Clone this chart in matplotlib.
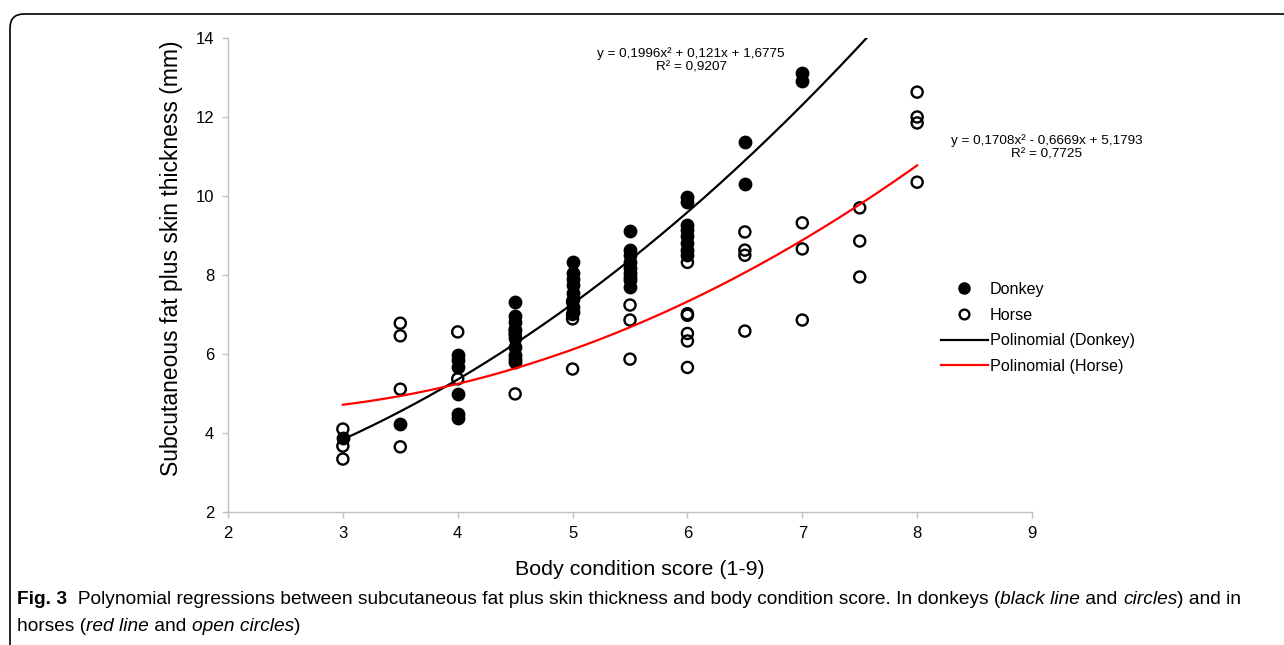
import numpy as np
import matplotlib
matplotlib.use('Agg')
import matplotlib.pyplot as plt
from matplotlib.patches import FancyBboxPatch
from matplotlib.lines import Line2D
from matplotlib.transforms import IdentityTransform

plt.rcParams['font.family'] = ['Liberation Sans', 'DejaVu Sans']

# body condition score and fat+skin thickness (mm)
donkey_x = [3,
            3.5,
            4, 4, 4, 4, 4, 4,
            4.5, 4.5, 4.5, 4.5, 4.5, 4.5, 4.5, 4.5, 4.5,
            5, 5, 5, 5, 5, 5, 5, 5,
            5.5, 5.5, 5.5, 5.5, 5.5, 5.5, 5.5, 5.5, 5.5,
            6, 6, 6, 6, 6, 6, 6, 6,
            6.5, 6.5,
            7, 7]
donkey_y = [3.88,
            4.23,
            5.98, 5.85, 5.68, 4.99, 4.47, 4.37,
            7.32, 6.95, 6.82, 6.62, 6.40, 6.18, 5.98, 5.88, 5.80,
            8.33, 8.05, 7.90, 7.75, 7.54, 7.39, 7.20, 7.06,
            9.11, 8.63, 8.50, 8.33, 8.18, 8.05, 7.95, 7.87, 7.70,
            9.97, 9.85, 9.27, 9.14, 9.00, 8.80, 8.63, 8.50,
            11.37, 10.30,
            13.11, 12.91]

horse_x = [3, 3, 3,
           3.5, 3.5, 3.5, 3.5,
           4, 4,
           4.5, 4.5, 4.5,
           5, 5, 5, 5,
           5.5, 5.5, 5.5,
           6, 6, 6, 6, 6, 6,
           6.5, 6.5, 6.5, 6.5,
           7, 7, 7,
           7.5, 7.5, 7.5,
           8, 8, 8, 8]
horse_y = [4.10, 3.67, 3.34,
           6.78, 6.46, 5.11, 3.65,
           6.56, 5.37,
           6.62, 6.50, 4.99,
           7.32, 7.00, 6.89, 5.62,
           7.24, 6.86, 5.87,
           8.32, 7.02, 6.98, 6.52, 6.33, 5.66,
           9.09, 8.63, 8.50, 6.58,
           9.32, 8.66, 6.86,
           9.70, 8.86, 7.95,
           12.63, 12.00, 11.85, 10.35]

# trendline coefficients as printed on the chart
donkey_fit = [0.1996, 0.121, 1.6775]
horse_fit = [0.1708, -0.6669, 5.1793]
donkey_eq = 'y = 0,1996x² + 0,121x + 1,6775\nR² = 0,9207'
horse_eq = 'y = 0,1708x² - 0,6669x + 5,1793\nR² = 0,7725'

W, H = 1284, 645
fig = plt.figure(figsize=(W / 100, H / 100), dpi=100)
ax = fig.add_axes([228 / W, 1 - 512 / H, 804 / W, 474 / H])

grey = '#c0c0c0'
ax.scatter(donkey_x, donkey_y, s=80, c='black', edgecolors='black', linewidths=1, zorder=3)
ax.scatter(horse_x, horse_y, s=64, facecolors='none', edgecolors='black', linewidths=1.7, zorder=4)

xs = np.linspace(3, 8, 200)
ax.plot(xs, np.polyval(donkey_fit, xs), color='black', lw=1.6, zorder=5)
ax.plot(xs, np.polyval(horse_fit, xs), color='#ff0000', lw=1.6, zorder=5)

ax.set_xlim(2, 9)
ax.set_ylim(2, 14)
ax.set_xticks(range(2, 10))
ax.set_yticks(range(2, 15, 2))
for s in ('top', 'right'):
    ax.spines[s].set_visible(False)
for s in ('left', 'bottom'):
    ax.spines[s].set_color(grey)
    ax.spines[s].set_linewidth(1)
ax.tick_params(axis='both', direction='out', length=4, width=1, color=grey,
               labelsize=12, pad=6)
ax.set_xlabel('Body condition score (1-9)', fontsize=15.4, labelpad=14)
ax.set_ylabel('Subcutaneous fat plus skin thickness (mm)', fontsize=16.5, labelpad=9)
ax.xaxis.label.set_x(0.512)
ax.yaxis.label.set_y(0.536)

ax.text(691, H - 60, donkey_eq, transform=IdentityTransform(), fontsize=9.7, ha='center',
        va='center', linespacing=1.2)
ax.text(1047, H - 147, horse_eq, transform=IdentityTransform(), fontsize=9.7, ha='center',
        va='center', linespacing=1.2)

handles = [
    Line2D([], [], ls='none', marker='o', ms=8, mfc='black', mec='black'),
    Line2D([], [], ls='none', marker='o', ms=7, mfc='none', mec='black', mew=1.7),
    Line2D([], [], color='black', lw=1.6),
    Line2D([], [], color='#ff0000', lw=1.6),
]
labels = ['Donkey', 'Horse', 'Polinomial (Donkey)', 'Polinomial (Horse)']
ax.legend(handles, labels, loc='upper left', bbox_to_anchor=(933 / W, 1 - 274 / H),
          bbox_transform=fig.transFigure, frameon=False, fontsize=11.6,
          handlelength=2.9, handletextpad=0.12, labelspacing=0.66, borderpad=0)

# panel frame
frame = FancyBboxPatch((10, -40), 1320, H - 14 + 40, boxstyle='round,pad=0,rounding_size=14',
                       transform=IdentityTransform(), facecolor='none', edgecolor='black', lw=1.2)
fig.patches.append(frame)

# caption with mixed styles
line1 = [('Fig. 3', 'bold', 'normal'),
         ('  Polynomial regressions between subcutaneous fat plus skin thickness and body condition score. In donkeys (', 'normal', 'normal'),
         ('black line', 'normal', 'italic'),
         (' and ', 'normal', 'normal'),
         ('circles', 'normal', 'italic'),
         (') and in', 'normal', 'normal')]
line2 = [('horses (', 'normal', 'normal'),
         ('red line', 'normal', 'italic'),
         (' and ', 'normal', 'normal'),
         ('open circles', 'normal', 'italic'),
         (')', 'normal', 'normal')]

r = fig.canvas.get_renderer()
for pieces, ybase in ((line1, H - 604), (line2, H - 631)):
    x = 17
    for s, wt, st in pieces:
        t = fig.text(x, ybase, s.replace(' ', '\u00a0'), transform=IdentityTransform(),
                     fontsize=13.8, fontweight=wt, fontstyle=st, va='baseline')
        x += t.get_window_extent(r).width

fig.savefig('out.png', dpi=100)
